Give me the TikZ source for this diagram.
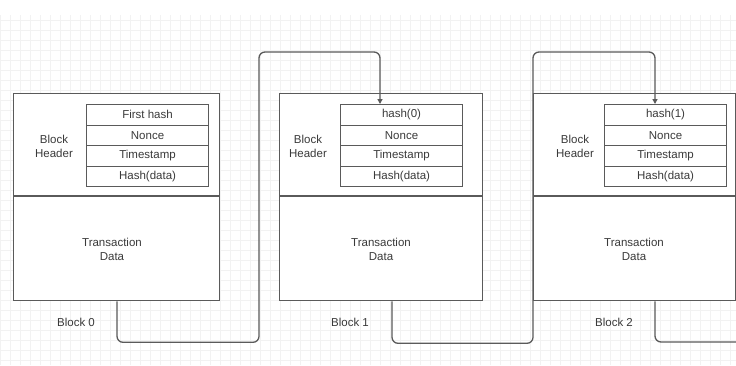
\documentclass[tikz,border=0pt]{standalone}
\usepackage{fontspec}
\setmainfont{Liberation Sans}
\usetikzlibrary{arrows.meta}
\definecolor{ln}{HTML}{5A5A5A}
\definecolor{tx}{HTML}{3A3A3A}
\tikzset{
  blockbox/.style={draw=ln, line width=1.3pt, fill=white, minimum width=#1, minimum height=207pt, inner sep=0pt, anchor=north west},
  cell/.style={draw=ln, line width=1.1pt, fill=white, minimum width=122pt, minimum height=20.5pt, inner sep=0pt, anchor=north west, font=\fontsize{11.5}{12}\selectfont, text=tx},
  lbl/.style={font=\fontsize{11.5}{14}\selectfont, text=tx, align=center},
  conn/.style={draw=ln, line width=1.3pt, rounded corners=6pt},
  tip/.style={-{Triangle[length=5pt,width=5pt]}},
  gridln/.style={black!5, line width=0.4pt}
}
\begin{document}
\begin{tikzpicture}[x=1pt,y=-1pt]
\useasboundingbox (0,0) rectangle (736,365);
\fill[white] (0,0) rectangle (736,365);
\foreach \gx in {0,10,...,730} {\draw[gridln] (\gx,15) -- (\gx,365);}
\foreach \gy in {20,30,...,360} {\draw[gridln] (0,\gy) -- (736,\gy);}

% connector turning points
\coordinate (up0) at (259,52);
\coordinate (up1) at (533,52);
\coordinate (end2) at (737,342);

% Block 0
\node[blockbox=206pt] (b0) at (13,93) {};
\draw[ln, line width=1.3pt] (13,196) -- (219,196);
\node[cell] (b0r1) at (86,104) {First hash};
\node[cell] (b0r2) at (86,124.5) {Nonce};
\node[cell] (b0r3) at (86,145) {Timestamp};
\node[cell] (b0r4) at (86,165.5) {Hash(data)};
\node[lbl] (b0h) at (54,146) {Block\\Header};
\node[lbl] (b0t) at (112,249) {Transaction\\Data};
\node[lbl] (b0l) at (76,322) {Block 0};

% Block 1
\node[blockbox=203pt] (b1) at (279,93) {};
\draw[ln, line width=1.3pt] (279,196) -- (482,196);
\node[cell] (b1r1) at (340,104) {hash(0)};
\node[cell] (b1r2) at (340,124.5) {Nonce};
\node[cell] (b1r3) at (340,145) {Timestamp};
\node[cell] (b1r4) at (340,165.5) {Hash(data)};
\node[lbl] (b1h) at (308,146) {Block\\Header};
\node[lbl] (b1t) at (381,249) {Transaction\\Data};
\node[lbl] (b1l) at (350,322) {Block 1};

% Block 2
\node[blockbox=202pt] (b2) at (533,93) {};
\draw[ln, line width=1.3pt] (533,196) -- (735,196);
\node[cell] (b2r1) at (604,104) {hash(1)};
\node[cell] (b2r2) at (604,124.5) {Nonce};
\node[cell] (b2r3) at (604,145) {Timestamp};
\node[cell] (b2r4) at (604,165.5) {Hash(data)};
\node[lbl] (b2h) at (575,146) {Block\\Header};
\node[lbl] (b2t) at (634,249) {Transaction\\Data};
\node[lbl] (b2l) at (614,322) {Block 2};

% connectors
\draw[conn, tip] ([xshift=104pt]b0.south west) -- ++(0,41) -| (up0) -| ([xshift=40pt]b1r1.north west);
\draw[conn, tip] ([xshift=113pt]b1.south west) -- ++(0,42) -| (up1) -| ([xshift=51pt]b2r1.north west);
\draw[conn] ([xshift=122pt]b2.south west) |- (end2);
\end{tikzpicture}
\end{document}
